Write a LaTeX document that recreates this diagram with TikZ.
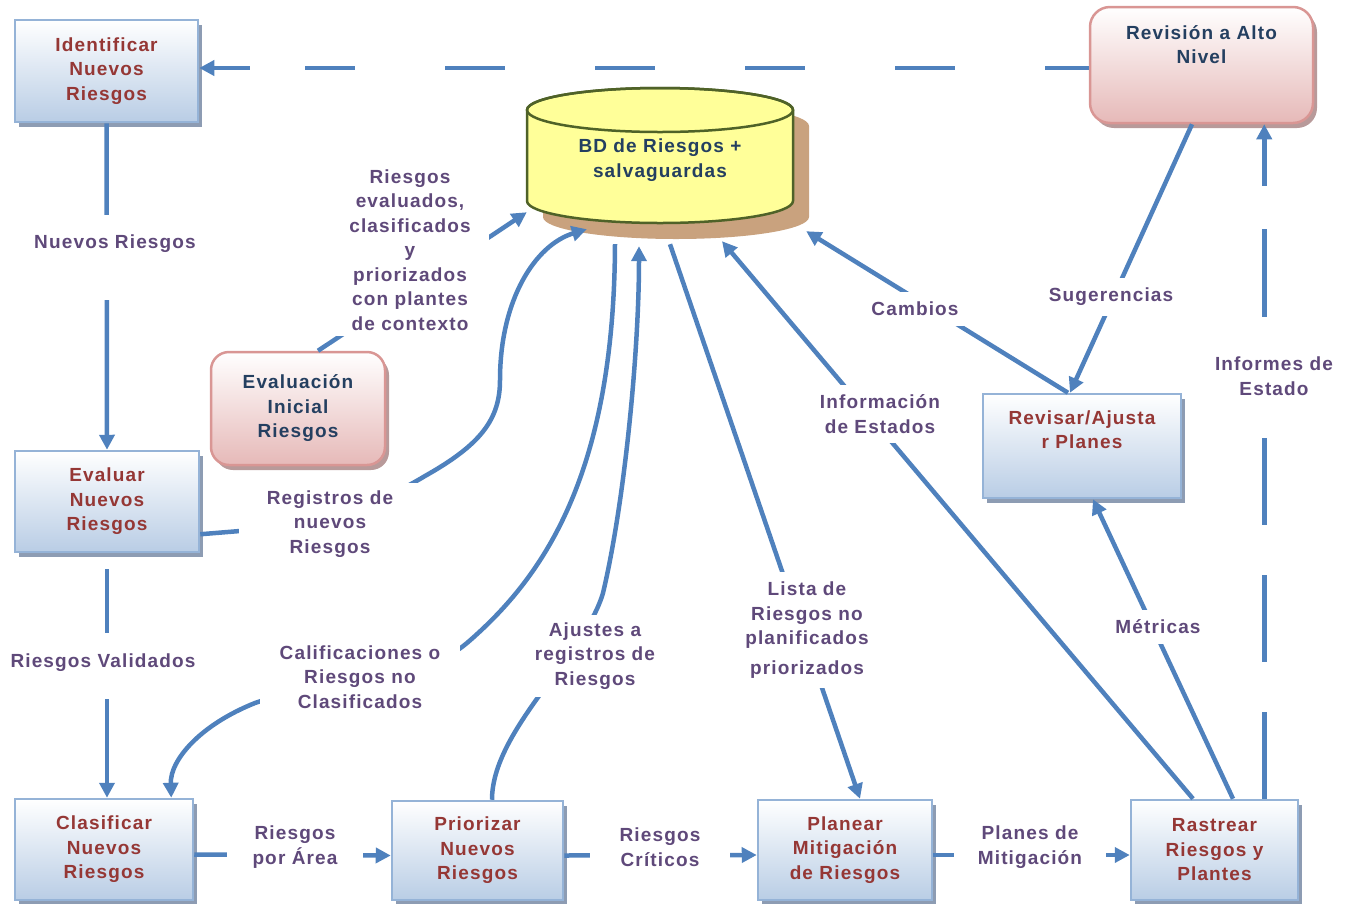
\documentclass[tikz,border=0pt]{standalone}
\usepackage{fontspec}
\setmainfont{Liberation Sans}[LetterSpace=6]
\usetikzlibrary{arrows.meta,shadows,calc}

\definecolor{flowblue}{HTML}{4F81BD}
\definecolor{proctext}{HTML}{953735}
\definecolor{tagpurple}{HTML}{5F497A}
\definecolor{navytext}{HTML}{243F60}
\definecolor{boxedge}{HTML}{95B3D7}
\definecolor{boxfill}{HTML}{B9CDE5}
\definecolor{boxshade}{HTML}{8D9CB3}
\definecolor{pinkedge}{HTML}{D99694}
\definecolor{pinkfill}{HTML}{E6B9B8}
\definecolor{pinkshade}{HTML}{B89A9A}
\definecolor{bdyellow}{HTML}{FFFF99}
\definecolor{bdedge}{HTML}{4F6228}
\definecolor{bdshade}{HTML}{C9A27E}

\begin{document}
\begin{tikzpicture}[x=1pt,y=-1pt,
  every node/.style={font=\fontsize{19}{24.5}\selectfont\bfseries, align=center},
  proc/.style={rectangle, draw=boxedge, line width=2.5pt, top color=white,
    bottom color=boxfill, text=proctext, inner sep=0pt,
    drop shadow={shadow xshift=4pt, shadow yshift=-5pt, fill=boxshade, opacity=1}},
  review/.style={rectangle, rounded corners=20pt, draw=pinkedge, line width=2.5pt,
    top color=white, bottom color=pinkfill, text=navytext, inner sep=0pt,
    drop shadow={shadow xshift=4pt, shadow yshift=-5pt, fill=pinkshade, opacity=1}},
  wire/.style={draw=flowblue, line width=4.5pt},
  flow/.style={wire, -{Triangle[length=15pt,width=15pt]}},
  flowback/.style={wire, {Triangle[length=15pt,width=15pt]}-},
  tag/.style={text=tagpurple, fill=white}
]
\useasboundingbox (0,0) rectangle (1350,903);

% risk database cylinder
\fill[bdshade] (543,126) -- (543,217)
  arc[start angle=180, end angle=0, x radius=133, y radius=22] -- (809,126)
  arc[start angle=0, end angle=-180, x radius=133, y radius=22] -- cycle;
\filldraw[fill=bdyellow, draw=bdedge, line width=2.5pt] (527,110) -- (527,201)
  arc[start angle=180, end angle=0, x radius=133, y radius=22] -- (793,110)
  arc[start angle=0, end angle=-180, x radius=133, y radius=22] -- cycle;
\draw[bdedge, line width=2.5pt] (660,110) ellipse[x radius=133, y radius=22];
\node[minimum width=266pt, minimum height=126pt, text=navytext] (bd) at (660,160)
  {BD de Riesgos +\\salvaguardas};

% process boxes
\node[proc, minimum width=183pt, minimum height=102pt] (ident) at (106.5,71)
  {Identificar\\Nuevos\\Riesgos};
\node[proc, minimum width=184pt, minimum height=101pt] (evaluar) at (107,501.5)
  {Evaluar\\Nuevos\\Riesgos};
\node[proc, minimum width=178pt, minimum height=101pt] (clasif) at (104,849.5)
  {Clasificar\\Nuevos\\Riesgos};
\node[proc, minimum width=171pt, minimum height=99pt] (prior) at (477.5,850.5)
  {Priorizar\\Nuevos\\Riesgos};
\node[proc, minimum width=174pt, minimum height=100pt] (planear) at (845,850)
  {Planear\\Mitigación\\de Riesgos};
\node[proc, minimum width=167pt, minimum height=100pt] (rastrear) at (1214.5,850)
  {Rastrear\\Riesgos y\\Plantes};
\node[proc, minimum width=198pt, minimum height=104pt] (revisar) at (1082,446)
  {Revisar/Ajusta\\r Planes\\[8pt]~};

% review boxes
\node[review, minimum width=223pt, minimum height=116pt] (revalto) at (1201.5,65)
  {Revisión a Alto\\Nivel\\[16pt]~};
\node[review, rounded corners=18pt, minimum width=174pt, minimum height=113pt] (evalini)
  at (298,408.5) {Evaluación\\Inicial\\Riesgos};

% end points of the two dashed status lines
\coordinate (topline) at ($(revalto.west)+(0,3)$);
\coordinate (infbase) at ($(rastrear.north east)+(-35,0)$);
\node[tag, inner xsep=3pt, inner ysep=40pt] (linf) at (1274,376) {Informes de\\Estado};

% connectors
\draw[flowback, dash pattern=on 37pt off 55pt on 50pt off 90pt on 60pt off 90pt
  on 60pt off 90pt on 60pt off 90pt on 60pt off 90pt on 60pt off 90pt]
  (topline -| ident.east) -- (topline);
\draw[flow] (ident.south) -- (evaluar.north);
\draw[flow, shorten <=16pt] (evaluar.south) -- (evaluar.south |- clasif.north);

\draw[flow] ($(evaluar.south east)+(0,-19)$) -- (240,531)
  .. controls (330,525) and (385,500) .. (425,476)
  .. controls (480,445) and (500,420) .. (500,380)
  .. controls (500,300) and (535,245) .. ($(bd.south west)+(60,6)$);
\draw[flow] ($(evalini.north)+(20,0)$) -- ($(bd.south west)+(0,-11)$);
\draw[flow] ($(bd.south)+(-45,21)$)
  .. controls (614,480) and (540,580) .. (467,643)
  .. controls (420,683) and (320,680) .. (255,703)
  .. controls (200,725) and (170,760) .. ($(clasif.north east)+(-23,0)$);
\draw[flow] ($(prior.north)+(14.5,0)$)
  .. controls (492,730) and (585,655) .. (603,593)
  .. controls (625,500) and (639,350) .. ($(bd.south)+(-21,23)$);
\draw[flow] ($(bd.south)+(10,21)$) -- ($(planear.north)+(15,0)$);
\draw[flow] ($(rastrear.north)+(-21.5,0)$) -- ($(bd.south)+(62,18)$);
\draw[flow] ($(revisar.north)+(-14,0)$) -- ($(bd.south east)+(13,8)$);
\draw[flow] ($(revalto.south)+(-9.5,0)$) -- ($(revisar.north)+(-12,0)$);
\draw[flow] ($(rastrear.north)+(18.5,0)$) -- ($(revisar.south)+(11,0)$);
\draw[wire, dash pattern=on 87pt off 50pt] (infbase) -- (infbase |- linf.south);
\draw[flow, dash pattern=on 88pt off 43pt]
  (infbase |- linf.north) -- ($(revalto.south east)+(-50,0)$);

\draw[flow] ($(clasif.east)+(0,5)$) -- ($(prior.west)+(0,5)$);
\draw[flow] ($(prior.east)+(0,5)$) -- ($(planear.west)+(0,5)$);
\draw[flow] ($(planear.east)+(0,5)$) -- ($(rastrear.west)+(0,5)$);

% connector labels
\node[tag, anchor=base, inner xsep=4pt, inner ysep=19pt, text depth=33pt] (lnuevos)
  at (115,248) {Nuevos Riesgos};
\node[tag, anchor=base, inner xsep=4pt, inner ysep=20pt, text depth=12pt] (lvalid)
  at (103,667) {Riesgos Validados};
\node[tag, inner xsep=28pt, inner ysep=8pt] (lreg) at (330,524)
  {Registros de\\nuevos\\Riesgos};
\node[tag, inner xsep=18pt, inner ysep=6pt] (leval) at (410,250)
  {Riesgos\\evaluados,\\clasificados\\y\\priorizados\\con plantes\\de contexto};
\node[tag, inner xsep=20pt, inner ysep=4pt] (lcal) at (360,677)
  {Calificaciones o\\Riesgos no\\Clasificados};
\node[tag, inner xsep=4pt, inner ysep=8pt] (lajus) at (595,656)
  {Ajustes a\\registros de\\Riesgos};
\node[tag, inner xsep=4pt, inner ysep=10pt] (llista) at (807,630)
  {Lista de\\Riesgos no\\planificados\\[5pt]priorizados};
\node[tag, inner sep=10pt] (linfo) at (880,414) {Información\\de Estados};
\node[tag, inner sep=10pt] (lcamb) at (915,309) {Cambios};
\node[tag, inner xsep=3pt, inner ysep=10pt] (lsug) at (1111,297) {Sugerencias};
\node[tag, inner xsep=4pt, inner ysep=10pt] (lmet) at (1158,627) {Métricas};
\node[tag, inner xsep=26pt] (larea) at (295,847) {Riesgos\\por Área};
\node[tag, inner xsep=30pt] (lcrit) at (660,847) {Riesgos\\Críticos};
\node[tag, inner xsep=24pt] (lplan) at (1030,847) {Planes de\\Mitigación};
\end{tikzpicture}
\end{document}
